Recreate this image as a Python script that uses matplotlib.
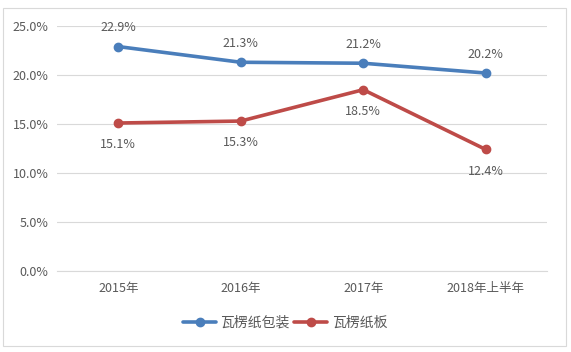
import matplotlib
matplotlib.use("Agg")
import matplotlib.pyplot as plt
from matplotlib.patches import Rectangle
from matplotlib.ticker import FuncFormatter

plt.rcParams['font.family'] = ['Noto Sans CJK SC', 'DejaVu Sans']

categories = ['2015年', '2016年', '2017年', '2018年上半年']
packaging = [22.9, 21.3, 21.2, 20.2]
board = [15.1, 15.3, 18.5, 12.4]
series_names = ['瓦楞纸包装', '瓦楞纸板']

blue = '#4a7ebb'
red = '#be4b48'
text_color = '#595959'

fig = plt.figure(figsize=(5.71, 3.52), dpi=100)
ax = fig.add_axes([57 / 571, 81 / 352, 490 / 571, 245 / 352])

x = range(len(categories))
ax.plot(x, packaging, color=blue, lw=2.6, marker='o', ms=6, label=series_names[0],
        solid_capstyle='round')
ax.plot(x, board, color=red, lw=2.6, marker='o', ms=6, label=series_names[1],
        solid_capstyle='round')

for i, v in enumerate(packaging):
    ax.annotate(f'{v:.1f}%', (i, v), xytext=(0, 9), textcoords='offset points',
                ha='center', va='bottom', fontsize=9, color=text_color)
for i, v in enumerate(board):
    ax.annotate(f'{v:.1f}%', (i, v), xytext=(0, -11), textcoords='offset points',
                ha='center', va='top', fontsize=9, color=text_color)

ax.set_ylim(0, 25)
ax.set_xlim(-0.5, len(categories) - 0.5)
ax.set_yticks([0, 5, 10, 15, 20, 25])
ax.yaxis.set_major_formatter(FuncFormatter(lambda v, p: f'{v:.1f}%'))
ax.set_xticks(list(x))
ax.set_xticklabels(categories)
ax.tick_params(length=0, labelsize=9, colors=text_color)
ax.tick_params(axis='y', pad=6)
ax.tick_params(axis='x', pad=8)
ax.grid(axis='y', color='#d9d9d9', lw=0.8)
ax.set_axisbelow(True)
for s in ax.spines.values():
    s.set_visible(False)
ax.spines['bottom'].set_visible(True)
ax.spines['bottom'].set_color('#d9d9d9')

leg = fig.legend(loc='center', bbox_to_anchor=(285 / 571, 1 - 323 / 352), ncol=2,
                 frameon=False, fontsize=10, handlelength=2.4, columnspacing=0.3,
                 handletextpad=0.3)
for t in leg.get_texts():
    t.set_color(text_color)

fig.patches.append(Rectangle((3 / 571, 6 / 352), 563 / 571, 338 / 352,
                             transform=fig.transFigure, fill=False,
                             edgecolor='#d9d9d9', lw=0.8))

fig.savefig('out.png', dpi=100)
